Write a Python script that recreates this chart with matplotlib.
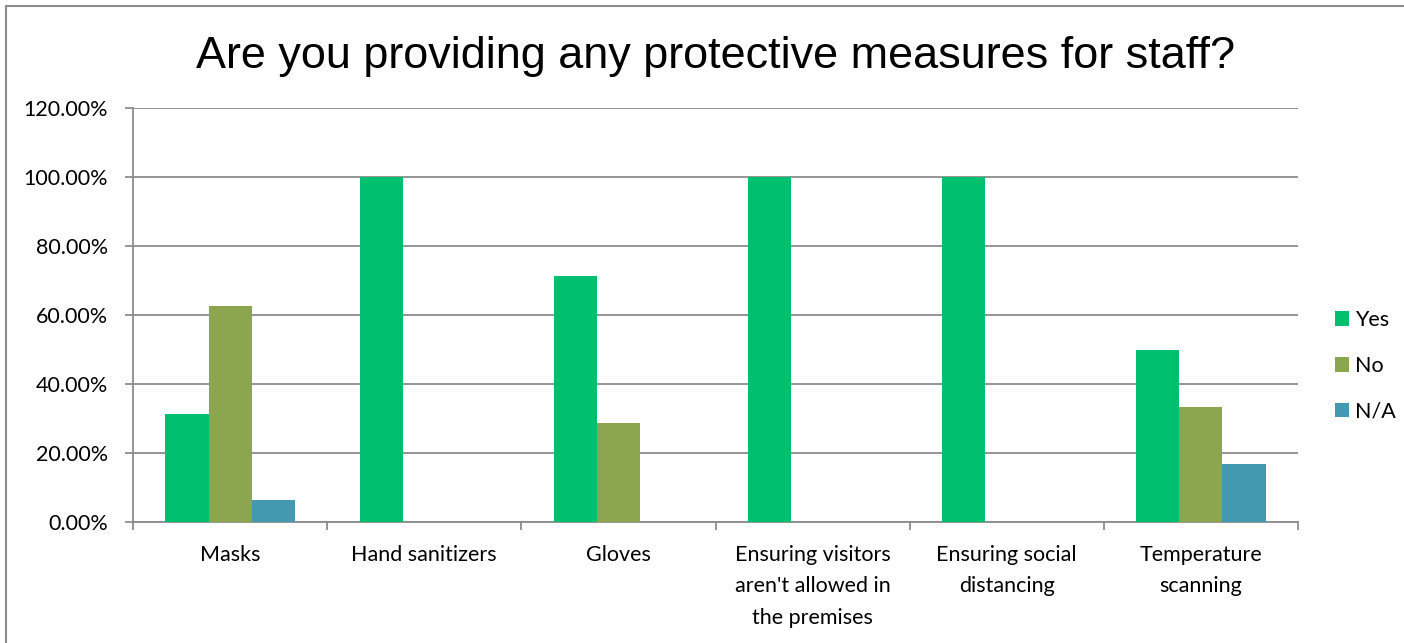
import numpy as np
import matplotlib.pyplot as plt
from matplotlib.patches import Rectangle
from matplotlib.ticker import FuncFormatter

categories = ['Masks', 'Hand sanitizers', 'Gloves',
              "Ensuring visitors\naren't allowed in\nthe premises",
              'Ensuring social\ndistancing', 'Temperature\nscanning']
yes = [31.25, 100.0, 71.43, 100.0, 100.0, 50.0]
no = [62.5, 0, 28.57, 0, 0, 33.33]
na = [6.25, 0, 0, 0, 0, 16.67]

series = [('Yes', yes, '#00BF6F'), ('No', no, '#8BA64E'), ('N/A', na, '#4399B0')]

plt.rcParams['font.family'] = ['Lato', 'DejaVu Sans']
grey = '#8c8c8c'
fs = 15.5

fig = plt.figure(figsize=(14.04, 6.43), dpi=100)
ax = fig.add_axes([133/1404, 1-522/643, (1298-133)/1404, (522-108)/643])

x = np.arange(len(categories))
w = 1/4.5
for i, (name, vals, col) in enumerate(series):
    ax.bar(x + (i-1)*w, vals, width=w, color=col, label=name, zorder=3)

ax.set_xlim(-0.5, len(categories)-0.5)
ax.set_ylim(0, 120)
ax.set_yticks(np.arange(0, 121, 20))
ax.yaxis.set_major_formatter(FuncFormatter(lambda v, p: f'{v:.2f}%'))
ax.yaxis.grid(True, color=grey, linewidth=1.3, zorder=0)

# category labels centred, tick marks between categories
ax.set_xticks(x)
ax.set_xticklabels(categories, fontsize=fs, linespacing=1.72)
ax.set_xticks(np.arange(-0.5, len(categories)), minor=True)
ax.tick_params(axis='x', which='major', length=0, pad=16.5)
ax.tick_params(axis='x', which='minor', length=6, width=1.3, color=grey)
ax.tick_params(axis='y', length=6, width=1.3, color=grey, labelsize=fs, pad=12)

for s in ['top', 'right']:
    ax.spines[s].set_visible(False)
for s in ['left', 'bottom']:
    ax.spines[s].set_color(grey)
    ax.spines[s].set_linewidth(1.3)

ax.set_title('Are you providing any protective measures for staff?',
             fontsize=32.4, family='Liberation Sans', pad=29)

leg = fig.legend(loc='center left', bbox_to_anchor=(1335/1404, 1-366/643),
                 frameon=False, fontsize=fs, handlelength=0.65,
                 handleheight=0.65, handletextpad=0.3, labelspacing=1.2,
                 borderpad=0, borderaxespad=0)

fig.patches.append(Rectangle((6/1404, -0.1), 1.2, 1-6/643+0.1,
                             transform=fig.transFigure, fill=False,
                             edgecolor=grey, linewidth=1.5))

fig.savefig('out.png', dpi=100)
